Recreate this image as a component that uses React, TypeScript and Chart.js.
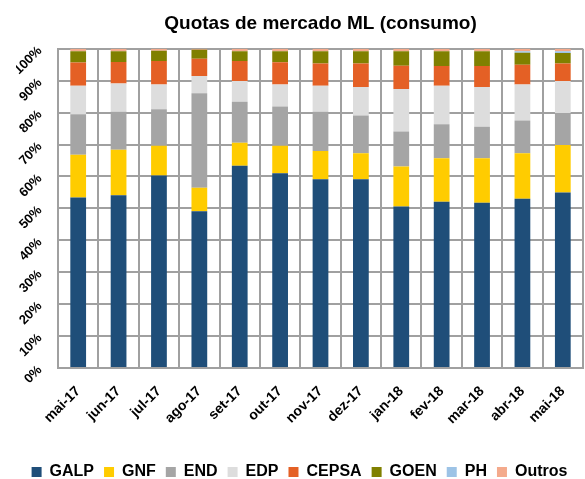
import React, { useEffect, useRef } from "react";
import { Chart, registerables } from "chart.js";

Chart.register(...registerables);

const categories = ["mai-17", "jun-17", "jul-17", "ago-17", "set-17", "out-17", "nov-17", "dez-17", "jan-18", "fev-18", "mar-18", "abr-18", "mai-18"];

const GALP = [53.4, 54.1, 60.3, 49.1, 63.4, 61.0, 59.1, 59.1, 50.6, 52.1, 51.8, 53.0, 55.0];
const GNF = [13.4, 14.3, 9.3, 7.4, 7.2, 8.6, 8.9, 8.2, 12.5, 13.6, 13.9, 14.3, 14.9];
const END = [12.7, 11.9, 11.5, 29.6, 12.8, 12.3, 12.3, 11.8, 11.0, 10.7, 9.9, 10.2, 10.0];
const EDP = [8.9, 8.8, 7.7, 5.4, 6.5, 6.9, 8.1, 8.9, 13.3, 12.0, 12.4, 11.3, 10.0];
const CEPSA = [7.3, 6.8, 7.4, 5.4, 6.3, 7.0, 7.0, 7.4, 7.3, 6.2, 6.6, 6.2, 5.5];
const GOEN = [3.5, 3.3, 3.2, 2.8, 3.0, 3.4, 3.8, 3.8, 4.5, 4.6, 4.6, 3.8, 3.3];
const PH = [0, 0, 0, 0, 0, 0, 0, 0, 0, 0, 0, 0.4, 0.5];
const Outros = [0.8, 0.8, 0.6, 0.3, 0.8, 0.8, 0.8, 0.8, 0.8, 0.8, 0.8, 0.8, 0.8];

const seriesNames = ["GALP", "GNF", "END", "EDP", "CEPSA", "GOEN", "PH", "Outros"];
const seriesValues = [GALP, GNF, END, EDP, CEPSA, GOEN, PH, Outros];
const seriesColors = ["#1F4E79", "#FFCC00", "#A5A5A5", "#DDDDDD", "#E46025", "#808000", "#9DC3E6", "#F4AA8C"];

const yTicks = [0, 10, 20, 30, 40, 50, 60, 70, 80, 90, 100];

const FONT = "'Liberation Sans', Arial, sans-serif";

const legendShift = {
  id: "legendShift",
  afterLayout(chart: any) {
    const l = chart.legend;
    if (l) {
      l.top += 11;
      l.bottom += 11;
    }
  },
};

export default function App() {
  const ref = useRef<HTMLCanvasElement | null>(null);
  useEffect(() => {
    document.body.style.margin = "0";
    if (!ref.current) return;
    const chart = new Chart(ref.current, {
      type: "bar",
      data: {
        labels: categories,
        datasets: seriesNames.map((n, i) => ({
          label: n,
          data: seriesValues[i],
          backgroundColor: seriesColors[i],
          borderWidth: 0,
          barPercentage: 0.39,
          categoryPercentage: 1,
        })),
      },
      plugins: [legendShift],
      options: {
        animation: false,
        responsive: false,
        maintainAspectRatio: false,
        layout: { padding: { left: 16, right: 2, top: 0, bottom: 0 } },
        plugins: {
          title: {
            display: true,
            text: "Quotas de mercado ML (consumo)",
            fullSize: false,
            color: "#000",
            font: { family: FONT, size: 19, weight: "bold" },
            padding: { top: 12, bottom: 14 },
          },
          legend: {
            position: "bottom",
            labels: {
              color: "#000",
              font: { family: FONT, size: 16, weight: "bold" },
              boxWidth: 10,
              boxHeight: 10,
              padding: 10,
            },
          },
          tooltip: { enabled: false },
        },
        scales: {
          x: {
            stacked: true,
            afterFit: (scale: any) => {
              scale.height = 75;
              scale.paddingLeft = 0;
              scale.paddingRight = 0;
            },
            grid: { color: "#A0A0A0", lineWidth: 2, drawTicks: false, offset: true },
            border: { color: "#A0A0A0", width: 2 },
            ticks: {
              color: "#000",
              font: { family: FONT, size: 14, weight: "bold" },
              minRotation: 45,
              maxRotation: 45,
              padding: 15,
              autoSkip: false,
            },
          },
          y: {
            stacked: true,
            min: 0,
            max: 100,
            afterFit: (scale: any) => {
              scale.width = 42;
            },
            afterBuildTicks: (scale: any) => {
              scale.ticks = yTicks.map((v) => ({ value: v }));
            },
            grid: { color: "#A0A0A0", lineWidth: 2, drawTicks: false },
            border: { color: "#A0A0A0", width: 2 },
            ticks: {
              color: "#000",
              font: { family: FONT, size: 13, weight: "bold" },
              minRotation: 45,
              maxRotation: 45,
              padding: 18,
              callback: (v: any) => v + "%",
            },
          },
        },
      },
    });
    return () => chart.destroy();
  }, []);
  return <canvas ref={ref} width={585} height={479} style={{ display: "block" }} />;
}
